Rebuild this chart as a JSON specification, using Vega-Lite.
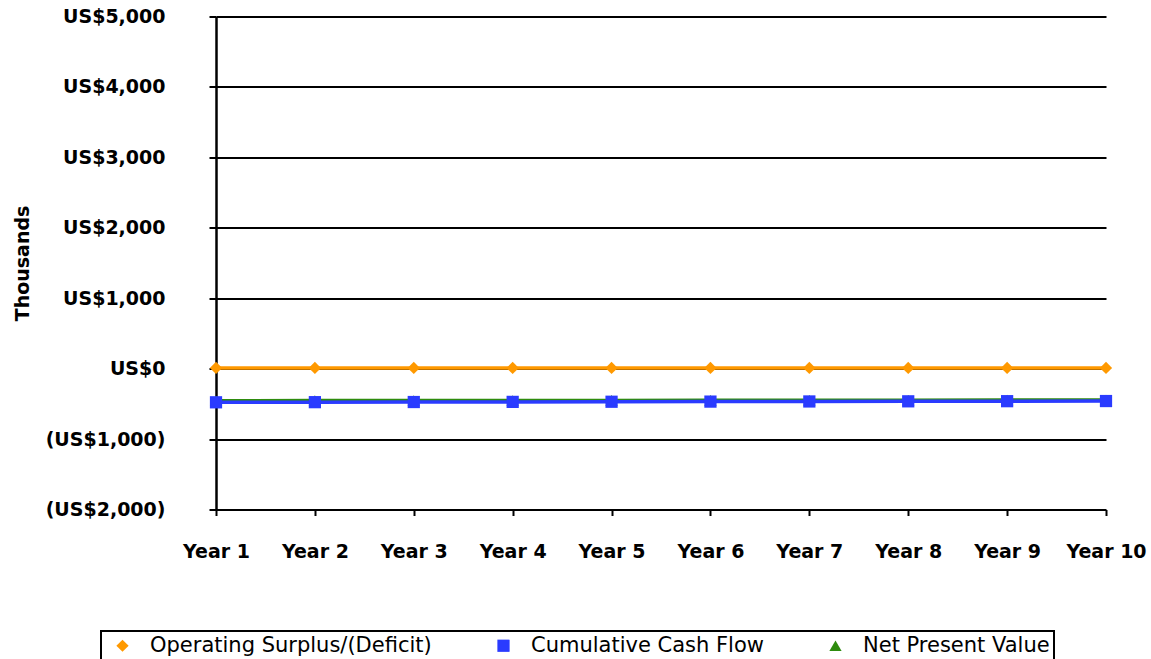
{
  "$schema": "https://vega.github.io/schema/vega-lite/v6.json",
  "width": 890,
  "height": 493,
  "autosize": {"type": "none"},
  "padding": {"left": 216, "top": 16.5, "right": 45, "bottom": 150},
  "background": "white",
  "config": {
    "view": {"stroke": null},
    "font": "DejaVu Sans"
  },
  "data": {
    "values": [
      {"year": "Year 1", "series": "Operating Surplus/(Deficit)", "value": 10},
      {"year": "Year 2", "series": "Operating Surplus/(Deficit)", "value": 10},
      {"year": "Year 3", "series": "Operating Surplus/(Deficit)", "value": 10},
      {"year": "Year 4", "series": "Operating Surplus/(Deficit)", "value": 10},
      {"year": "Year 5", "series": "Operating Surplus/(Deficit)", "value": 10},
      {"year": "Year 6", "series": "Operating Surplus/(Deficit)", "value": 10},
      {"year": "Year 7", "series": "Operating Surplus/(Deficit)", "value": 10},
      {"year": "Year 8", "series": "Operating Surplus/(Deficit)", "value": 10},
      {"year": "Year 9", "series": "Operating Surplus/(Deficit)", "value": 10},
      {"year": "Year 10", "series": "Operating Surplus/(Deficit)", "value": 10},
      {"year": "Year 1", "series": "Net Present Value", "value": -455},
      {"year": "Year 2", "series": "Net Present Value", "value": -454},
      {"year": "Year 3", "series": "Net Present Value", "value": -453},
      {"year": "Year 4", "series": "Net Present Value", "value": -452},
      {"year": "Year 5", "series": "Net Present Value", "value": -451},
      {"year": "Year 6", "series": "Net Present Value", "value": -450},
      {"year": "Year 7", "series": "Net Present Value", "value": -449},
      {"year": "Year 8", "series": "Net Present Value", "value": -448},
      {"year": "Year 9", "series": "Net Present Value", "value": -447},
      {"year": "Year 10", "series": "Net Present Value", "value": -446},
      {"year": "Year 1", "series": "Cumulative Cash Flow", "value": -478},
      {"year": "Year 2", "series": "Cumulative Cash Flow", "value": -476},
      {"year": "Year 3", "series": "Cumulative Cash Flow", "value": -474},
      {"year": "Year 4", "series": "Cumulative Cash Flow", "value": -472},
      {"year": "Year 5", "series": "Cumulative Cash Flow", "value": -470},
      {"year": "Year 6", "series": "Cumulative Cash Flow", "value": -468},
      {"year": "Year 7", "series": "Cumulative Cash Flow", "value": -466},
      {"year": "Year 8", "series": "Cumulative Cash Flow", "value": -464},
      {"year": "Year 9", "series": "Cumulative Cash Flow", "value": -462},
      {"year": "Year 10", "series": "Cumulative Cash Flow", "value": -460}
    ]
  },
  "encoding": {
    "x": {
      "field": "year",
      "type": "ordinal",
      "sort": null,
      "scale": {"type": "point", "padding": 0},
      "axis": {
        "title": null,
        "labelAngle": 0,
        "labelFont": "DejaVu Sans",
        "labelFontWeight": "bold",
        "labelFontSize": 19,
        "labelColor": "black",
        "labelPadding": 27,
        "tickColor": "black",
        "tickWidth": 2,
        "tickSize": 6,
        "domain": false,
        "grid": false
      }
    },
    "y": {
      "field": "value",
      "type": "quantitative",
      "scale": {"domain": [-2000, 5000], "nice": false, "zero": false},
      "axis": {
        "title": "Thousands",
        "titleFont": "DejaVu Sans",
        "titleFontWeight": "bold",
        "titleFontSize": 19,
        "titleColor": "black",
        "titlePadding": 13,
        "values": [-2000, -1000, 0, 1000, 2000, 3000, 4000, 5000],
        "labelExpr": "datum.value < 0 ? '(US$' + format(-datum.value, ',') + ')' : 'US$' + format(datum.value, ',')",
        "labelFont": "DejaVu Sans",
        "labelFontWeight": "bold",
        "labelFontSize": 19,
        "labelColor": "black",
        "labelPadding": 44,
        "tickColor": "black",
        "tickWidth": 2,
        "tickSize": 7,
        "domainColor": "black",
        "domainWidth": 2.5,
        "grid": true,
        "gridColor": "black",
        "gridWidth": 2,
        "gridOpacity": 1
      }
    },
    "color": {
      "field": "series",
      "type": "nominal",
      "scale": {
        "domain": ["Operating Surplus/(Deficit)", "Cumulative Cash Flow", "Net Present Value"],
        "range": ["#FF9900", "#2A3BFF", "#2E8B0E"]
      },
      "legend": {
        "title": null,
        "orient": "none",
        "direction": "horizontal",
        "legendX": -115,
        "legendY": 614.5,
        "strokeColor": "black",
        "padding": 4,
        "symbolOffset": 7,
        "columnPadding": 54,
        "symbolSize": 150,
        "symbolStrokeWidth": 0,
        "labelFont": "DejaVu Sans",
        "labelFontSize": 21,
        "labelColor": "black",
        "labelLimit": 400,
        "labelOffset": 17,
        "encode": {
          "legend": {"update": {"strokeWidth": {"value": 2}}}
        }
      }
    },
    "shape": {
      "field": "series",
      "type": "nominal",
      "scale": {
        "domain": ["Operating Surplus/(Deficit)", "Cumulative Cash Flow", "Net Present Value"],
        "range": ["diamond", "square", "triangle-up"]
      }
    }
  },
  "layer": [
    {
      "mark": {"type": "line", "strokeWidth": 3.5}
    },
    {
      "mark": {"type": "point", "filled": true, "opacity": 1, "size": 150}
    }
  ]
}
